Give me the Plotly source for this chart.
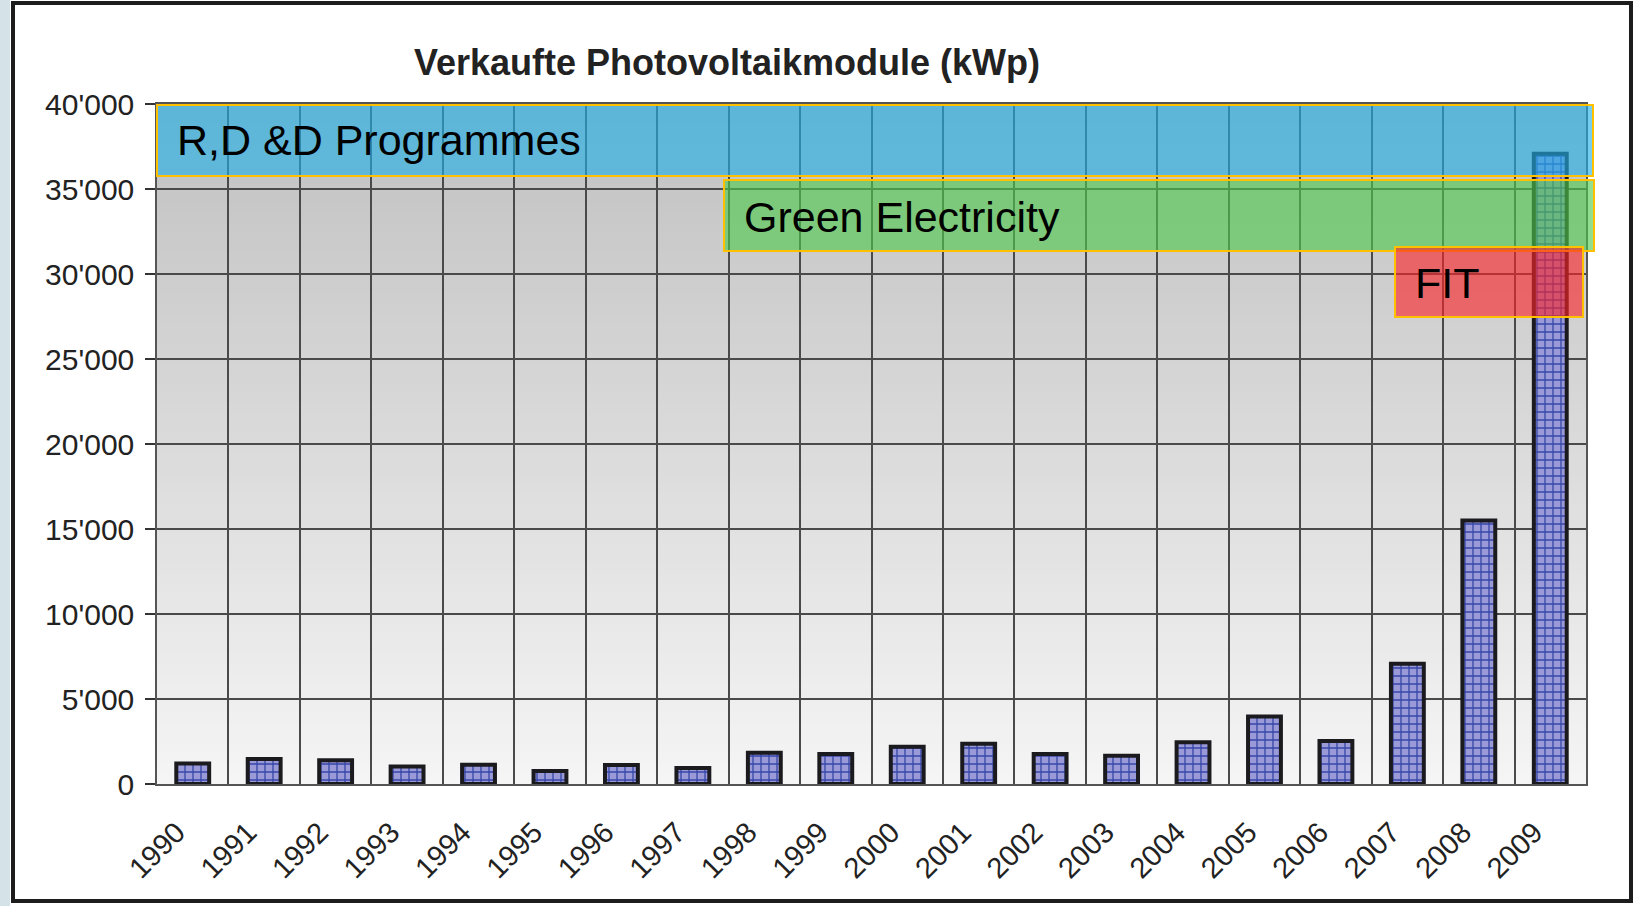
import plotly.graph_objects as go

# ---------------- data ----------------
years = ["1990", "1991", "1992", "1993", "1994", "1995", "1996", "1997", "1998", "1999",
         "2000", "2001", "2002", "2003", "2004", "2005", "2006", "2007", "2008", "2009"]
kwp = [1210, 1470, 1390, 1035, 1135, 765, 1120, 940, 1840, 1765,
       2195, 2370, 1765, 1665, 2450, 3975, 2530, 7075, 15500, 37075]
y_tick_values = [0, 5000, 10000, 15000, 20000, 25000, 30000, 35000, 40000]
chart_title = "Verkaufte Photovoltaikmodule (kWp)"
programme_labels = ["R,D &D Programmes", "Green Electricity", "FIT"]

# ---------------- geometry (pixels) ----------------
W, H = 1639, 906
L, R, T, B = 157, 1586, 104, 784          # plot area edges in px
PW, PH = R - L, B - T


def px(x):
    return (x - L) / PW


def py(y):
    return (B - y) / PH


FONT = "Liberation Sans, Arial, Helvetica, sans-serif"

fig = go.Figure()

fig.add_trace(go.Bar(
    x=years, y=kwp, width=0.46,
    marker=dict(
        color="#9898d6",
        line=dict(color="#1b1b1f", width=4),
        pattern=dict(shape="+", fgcolor="#3646a8", bgcolor="#9a9ad8",
                     size=8, solidity=0.3, fillmode="replace"),
    ),
    hoverinfo="x+y",
))

shapes = []

# outer frame + left strip
shapes.append(dict(type="rect", xref="paper", yref="paper",
                   x0=px(-2), x1=px(10), y0=py(H + 5), y1=py(-5),
                   fillcolor="#d5e2e8", line=dict(width=0), layer="below"))
shapes.append(dict(type="rect", xref="paper", yref="paper",
                   x0=px(1633), x1=px(W + 5), y0=py(H + 5), y1=py(-5),
                   fillcolor="#ffffff", line=dict(width=0), layer="below"))
shapes.append(dict(type="rect", xref="paper", yref="paper",
                   x0=px(13), x1=px(1631), y0=py(901), y1=py(3),
                   fillcolor="rgba(0,0,0,0)", line=dict(color="#1c1c1c", width=4),
                   layer="above"))

# vertical gradient background of plot area
nb = 68
top_c, bot_c = 192, 245
for i in range(nb):
    y0 = T + PH * i / nb
    y1 = T + PH * (i + 1) / nb
    f = (i + 0.5) / nb
    c = round(top_c + (bot_c - top_c) * f)
    shapes.append(dict(type="rect", xref="paper", yref="paper",
                       x0=0, x1=1, y0=py(y1) - 0.001, y1=py(y0) + 0.001,
                       fillcolor=f"rgb({c},{c},{c})", line=dict(width=0),
                       layer="below"))

# programme overlays
overlays = [
    (157, 1593, 105, 176, "rgba(33,175,231,0.62)"),
    (724, 1594, 180, 251, "rgba(79,202,76,0.62)"),
    (1395, 1583, 247, 317, "rgba(250,35,39,0.62)"),
]
for x0, x1, y0, y1, col in overlays:
    shapes.append(dict(type="rect", xref="paper", yref="paper",
                       x0=px(x0), x1=px(x1), y0=py(y1), y1=py(y0),
                       fillcolor=col, line=dict(color="#ffc000", width=2),
                       layer="above"))

annotations = [
    dict(text=chart_title, xref="paper", yref="paper", x=px(727), y=py(62),
         xanchor="center", yanchor="middle", showarrow=False,
         font=dict(family=FONT, size=36, color="#222222", weight="bold")),
]
label_pos = [(175, 140), (742, 217), (1413, 283)]
for (lx, ly), txt in zip(label_pos, programme_labels):
    annotations.append(dict(text=txt, xref="paper", yref="paper", x=px(lx), y=py(ly),
                            xanchor="left", yanchor="middle", showarrow=False,
                            font=dict(family=FONT, size=43, color="#000000")))

fig.update_layout(
    width=W, height=H,
    margin=dict(l=L, r=W - R, t=T, b=H - B, pad=0),
    paper_bgcolor="#ffffff",
    plot_bgcolor="#f4f4f4",
    separators=".'",
    showlegend=False,
    shapes=shapes,
    annotations=annotations,
    font=dict(family=FONT, color="#222222"),
    xaxis=dict(
        type="category", range=[-0.5, 19.5],
        tickson="boundaries", showgrid=True, gridcolor="#4a4a4a", gridwidth=1.5,
        ticks="", tickangle=-45, tickfont=dict(family=FONT, size=29, color="#222222"),
        showline=True, linecolor="#555555", linewidth=1.5, mirror=True,
        ticklabelstandoff=18, ticklabelshift=-16,
    ),
    yaxis=dict(
        range=[0, 40000], tickvals=y_tick_values, tickformat=",d",
        showgrid=True, gridcolor="#4a4a4a", gridwidth=1.5, zeroline=False,
        ticks="outside", ticklen=10, tickwidth=1.5, tickcolor="#333333",
        tickfont=dict(family=FONT, size=30, color="#222222"),
        showline=True, linecolor="#555555", linewidth=1.5, mirror=True,
        ticklabelstandoff=5,
    ),
)

fig.write_html(
    "out.html",
    config={"displayModeBar": False},
    post_script=("document.body.style.margin='0';document.body.style.overflow='hidden';"
                 "document.body.style.background='#ffffff';"
                 "document.documentElement.style.background='#ffffff';"),
)
